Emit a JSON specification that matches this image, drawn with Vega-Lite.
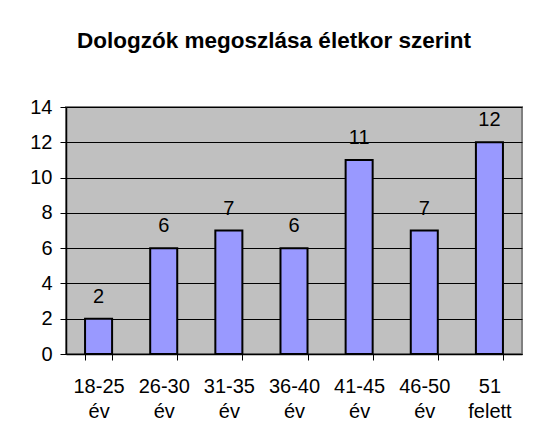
{
  "$schema": "https://vega.github.io/schema/vega-lite/v6.json",
  "autosize": {"type": "none"},
  "width": 456,
  "height": 247,
  "padding": {"left": 66, "top": 107, "right": 14, "bottom": 87},
  "background": "white",
  "title": {
    "text": "Dologzók megoszlása életkor szerint",
    "font": "Liberation Sans",
    "fontSize": 22.5,
    "fontWeight": "bold",
    "color": "black",
    "anchor": "middle",
    "baseline": "alphabetic",
    "dx": -20,
    "offset": 27
  },
  "data": {
    "values": [
      {"kor": "18-25 év", "db": 2},
      {"kor": "26-30 év", "db": 6},
      {"kor": "31-35 év", "db": 7},
      {"kor": "36-40 év", "db": 6},
      {"kor": "41-45 év", "db": 11},
      {"kor": "46-50 év", "db": 7},
      {"kor": "51 felett", "db": 12}
    ]
  },
  "config": {
    "view": {"fill": "#C0C0C0", "stroke": "#808080", "strokeWidth": 2},
    "axis": {
      "labelFont": "Liberation Sans",
      "labelFontSize": 20,
      "labelColor": "black",
      "domainColor": "black",
      "tickColor": "black",
      "domainWidth": 1.5,
      "tickWidth": 1,
      "title": null
    }
  },
  "encoding": {
    "x": {
      "field": "kor",
      "type": "nominal",
      "sort": null,
      "scale": {"paddingInner": 0.585, "paddingOuter": 0.2925},
      "axis": {
        "labelAngle": 0,
        "labelExpr": "split(datum.label, ' ')",
        "labelLineHeight": 25,
        "labelPadding": 16,
        "tickSize": 6,
        "tickBand": "extent",
        "grid": false
      }
    },
    "y": {
      "field": "db",
      "type": "quantitative",
      "scale": {"domain": [0, 14], "nice": false},
      "axis": {
        "values": [0, 2, 4, 6, 8, 10, 12, 14],
        "tickSize": 6,
        "labelPadding": 8,
        "grid": true,
        "gridColor": "black",
        "gridWidth": 1,
        "gridOpacity": 1
      }
    }
  },
  "layer": [
    {"mark": {"type": "bar", "fill": "#9999FF", "stroke": "black", "strokeWidth": 2}},
    {
      "mark": {"type": "text", "baseline": "alphabetic", "dy": -16, "font": "Liberation Sans", "fontSize": 20, "color": "black"},
      "encoding": {"text": {"field": "db", "type": "quantitative"}}
    }
  ]
}
